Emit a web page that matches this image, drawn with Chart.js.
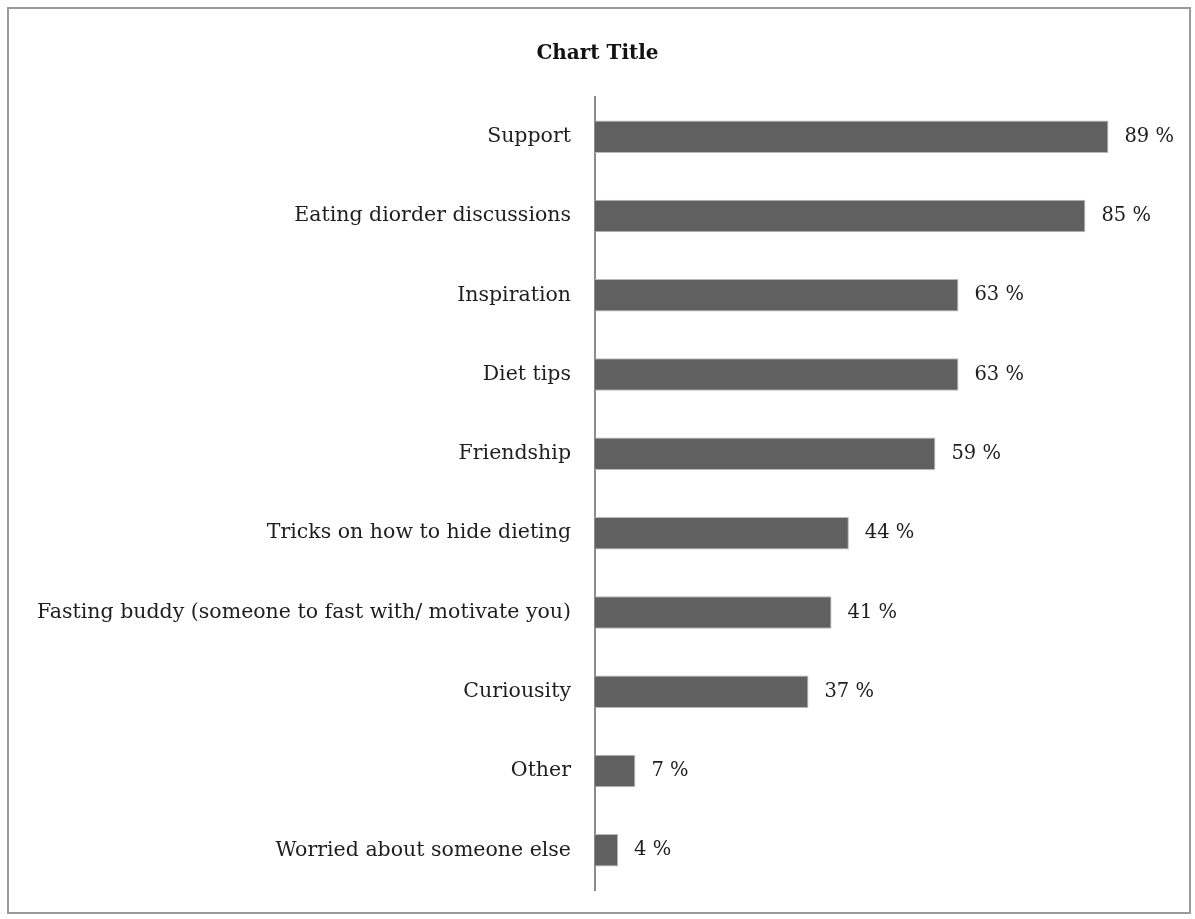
<!DOCTYPE html>
<html>
<head>
<meta charset="utf-8">
<script src="https://cdn.jsdelivr.net/npm/chart.js@4"></script>
<style>
    html, body { margin: 0; padding: 0; background: #fff; }
    #moldura { position: absolute; left: 7px; top: 7px; width: 1184px; height: 907px; border: 2px solid #9a9a9a; box-sizing: border-box; }
    #grafico { position: absolute; left: 0; top: 0; }
</style>
</head>
<body>
<div id="moldura"></div>
<canvas id="grafico" width="1195" height="919"></canvas>
<script>
// Dados do gráfico
const categorias = [
    'Support',
    'Eating diorder discussions',
    'Inspiration',
    'Diet tips',
    'Friendship',
    'Tricks on how to hide dieting',
    'Fasting buddy (someone to fast with/ motivate you)',
    'Curiousity',
    'Other',
    'Worried about someone else'
];
const valores = [89, 85, 63, 63, 59, 44, 41, 37, 7, 4];

const fonte = "'DejaVu Serif', serif";

// Plugin para escrever o valor ao lado de cada barra
const rotulosValores = {
    id: 'rotulosValores',
    afterDatasetsDraw(chart) {
        const ctx = chart.ctx;
        const meta = chart.getDatasetMeta(0);
        ctx.save();
        ctx.font = '19.5px ' + fonte;
        ctx.fillStyle = '#1e1e1e';
        ctx.textBaseline = 'middle';
        ctx.textAlign = 'left';
        meta.data.forEach((barra, i) => {
            ctx.fillText(valores[i] + ' %', barra.x + 16, barra.y);
        });
        ctx.restore();
    }
};

const ctx = document.getElementById('grafico').getContext('2d');
new Chart(ctx, {
    type: 'bar',
    data: {
        labels: categorias,
        datasets: [{
            data: valores,
            backgroundColor: '#606060',
            borderColor: '#b8b8b8',
            borderWidth: 1,
            categoryPercentage: 1,
            barPercentage: 0.41
        }]
    },
    options: {
        indexAxis: 'y',
        responsive: false,
        animation: false,
        devicePixelRatio: 1,
        layout: {
            padding: { left: 0, right: 0, top: 0, bottom: 29 }
        },
        plugins: {
            legend: { display: false },
            tooltip: { enabled: false },
            title: {
                display: true,
                text: 'Chart Title',
                color: '#111',
                font: { family: fonte, size: 20, weight: 'bold', lineHeight: 1.2 },
                padding: { top: 42, bottom: 31 }
            }
        },
        scales: {
            x: {
                display: false,
                min: 0,
                max: 104
            },
            y: {
                afterFit(escala) {
                    escala.width = 595;
                    escala.paddingTop = 0;
                    escala.paddingBottom = 0;
                },
                grid: { display: false, drawTicks: false },
                border: { display: true, color: '#8c8c8c', width: 2 },
                ticks: {
                    padding: 24,
                    color: '#1e1e1e',
                    font: { family: fonte, size: 20.5 }
                }
            }
        }
    },
    plugins: [rotulosValores]
});
</script>
</body>
</html>
